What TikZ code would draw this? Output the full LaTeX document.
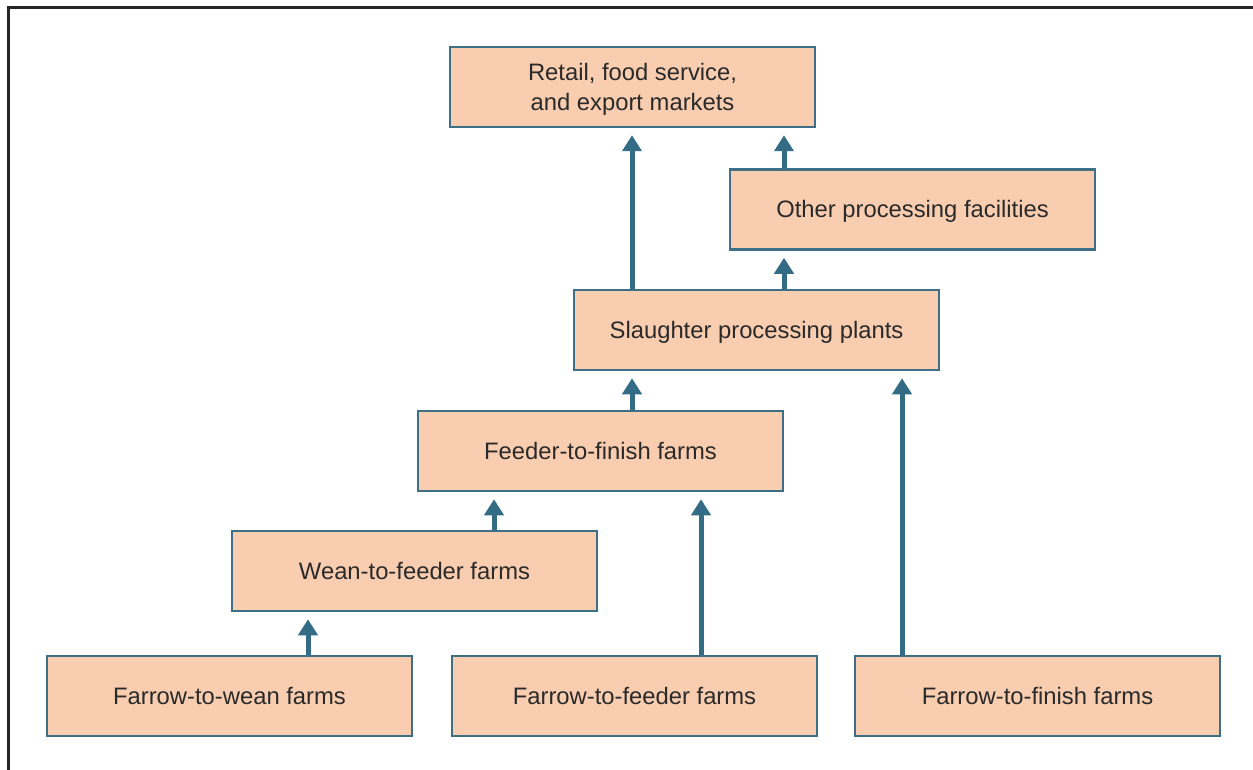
\documentclass[tikz,border=0pt]{standalone}
\usepackage{fontspec}
\setmainfont{Liberation Sans}
\usetikzlibrary{arrows.meta,calc}
\definecolor{boxfill}{HTML}{F9CDAF}
\definecolor{boxline}{HTML}{3D6F86}
\definecolor{arrcol}{HTML}{336C84}
\definecolor{txt}{HTML}{2A2A2A}
\definecolor{frame}{HTML}{262626}
\tikzset{
  stagebox/.style={draw=boxline, line width=2.5pt, fill=boxfill, minimum width=365pt, minimum height=80pt,
    inner sep=0pt, align=center, text=txt, font=\fontsize{23.8}{29.3}\selectfont,
    text height=17pt, text depth=0pt},
  flow/.style={draw=arrcol, line width=5pt, -{Triangle[width=19pt,length=16pt]}},
}
\begin{document}
\begin{tikzpicture}[x=1pt,y=-1pt]
\useasboundingbox (0,0) rectangle (1253,770);
\draw[frame, line width=3pt] (8,770) -- (8,8) -- (1253,8);

\node[stagebox, text height=46.3pt] (retail) at (632.5,87) {Retail, food service,\\and export markets};
\node[stagebox] (other) at (912.5,209.5) {Other processing facilities};
\node[stagebox] (slaughter) at (756.5,330) {Slaughter processing plants};
\node[stagebox] (feedfin) at (600.5,451) {Feeder-to-finish farms};
\node[stagebox] (weanfeed) at (414.5,571) {Wean-to-feeder farms};
\node[stagebox] (farwean) at (229.5,696) {Farrow-to-wean farms};
\node[stagebox] (farfeed) at (634.5,696) {Farrow-to-feeder farms};
\node[stagebox] (farfin) at (1037.5,696) {Farrow-to-finish farms};

\coordinate (xa) at (632,0);
\coordinate (xb) at (784,0);
\coordinate (xc) at (902,0);
\coordinate (xd) at (701,0);
\coordinate (xe) at (494,0);
\coordinate (xf) at (308,0);

\draw[flow] (slaughter.north -| xa) -- ($(retail.south -| xa)+(0,7)$);
\draw[flow] (slaughter.north -| xb) -- ($(other.south -| xb)+(0,7)$);
\draw[flow] (other.north -| xb) -- ($(retail.south -| xb)+(0,7)$);
\draw[flow] (feedfin.north -| xa) -- ($(slaughter.south -| xa)+(0,7)$);
\draw[flow] (farfin.north -| xc) -- ($(slaughter.south -| xc)+(0,7)$);
\draw[flow] (farfeed.north -| xd) -- ($(feedfin.south -| xd)+(0,7)$);
\draw[flow] (weanfeed.north -| xe) -- ($(feedfin.south -| xe)+(0,7)$);
\draw[flow] (farwean.north -| xf) -- ($(weanfeed.south -| xf)+(0,7)$);
\end{tikzpicture}
\end{document}
